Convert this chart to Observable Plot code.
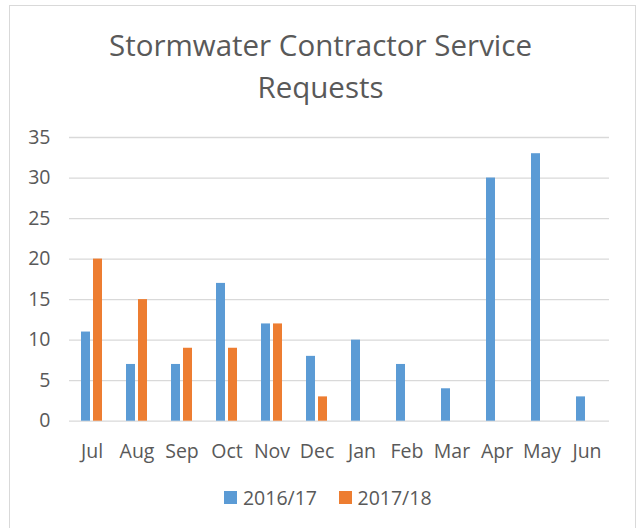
<!DOCTYPE html>
<html>
<head>
<meta charset="utf-8">
<script src="https://cdn.jsdelivr.net/npm/d3@7"></script>
<script src="https://cdn.jsdelivr.net/npm/@observablehq/plot@0.6"></script>
<style>
  html, body { margin: 0; padding: 0; background: #fff; }
  #chart { position: relative; width: 638px; height: 528px; overflow: hidden; background: #fff; font-family: "Open Sans", sans-serif; color: #595959; }
  #border { position: absolute; left: 9px; top: 5px; width: 627px; height: 600px; box-sizing: border-box; border: 1.5px solid #d9d9d9; }
  #title { position: absolute; left: 0; top: 24px; width: 641px; text-align: center; font-size: 29.5px; line-height: 42.3px; color: #595959; }
  #plot { position: absolute; left: 0; top: 120px; }
  #legend { position: absolute; left: 0; top: 484px; width: 656px; display: flex; justify-content: center; align-items: center; font-size: 19.5px; color: #595959; }
  .sw { display: inline-block; width: 12.5px; height: 12.5px; margin-right: 6px; }
  .item { display: flex; align-items: center; margin: 0 11px; }
</style>
</head>
<body>
<div id="chart">
  <div id="border"></div>
  <div id="title">Stormwater Contractor Service<br>Requests</div>
  <div id="plot"></div>
  <div id="legend"></div>
</div>
<script>
const months = ["Jul","Aug","Sep","Oct","Nov","Dec","Jan","Feb","Mar","Apr","May","Jun"];
const seriesNames = ["2016/17", "2017/18"];
const values1617 = [11, 7, 7, 17, 12, 8, 10, 7, 4, 30, 33, 3];
const values1718 = [20, 15, 9, 9, 12, 3, null, null, null, null, null, null];
const seriesColors = ["#5B9BD5", "#ED7D31"];
const yTicks = [0, 5, 10, 15, 20, 25, 30, 35];

const data = [];
months.forEach((m, i) => {
  if (values1617[i] != null) data.push({month: m, series: seriesNames[0], value: values1617[i]});
  if (values1718[i] != null) data.push({month: m, series: seriesNames[1], value: values1718[i]});
});

const chart = Plot.plot({
  width: 638,
  height: 350,
  marginLeft: 67,
  marginRight: 27,
  marginTop: 17,
  marginBottom: 49.3,
  style: {fontFamily: "'Open Sans', sans-serif", fontSize: "19.5px", color: "#595959", background: "transparent"},
  fx: {domain: months, paddingInner: 0, paddingOuter: 0, label: null, tickSize: 0, tickPadding: 23},
  x: {domain: seriesNames, paddingInner: 0.23, paddingOuter: 0.88, axis: null},
  y: {domain: [0, 35], ticks: yTicks, label: null, tickSize: 0, tickPadding: 19},
  color: {domain: seriesNames, range: seriesColors},
  marks: [
    Plot.gridY(yTicks, {stroke: "#d9d9d9", strokeWidth: 1.3, strokeOpacity: 1}),
    Plot.barY(data, {fx: "month", x: "series", y: "value", fill: "series"})
  ]
});
document.getElementById("plot").appendChild(chart);

const legend = document.getElementById("legend");
seriesNames.forEach((s, i) => {
  const item = document.createElement("div");
  item.className = "item";
  const sw = document.createElement("span");
  sw.className = "sw";
  sw.style.background = seriesColors[i];
  item.appendChild(sw);
  item.appendChild(document.createTextNode(s));
  legend.appendChild(item);
});
</script>
</body>
</html>
